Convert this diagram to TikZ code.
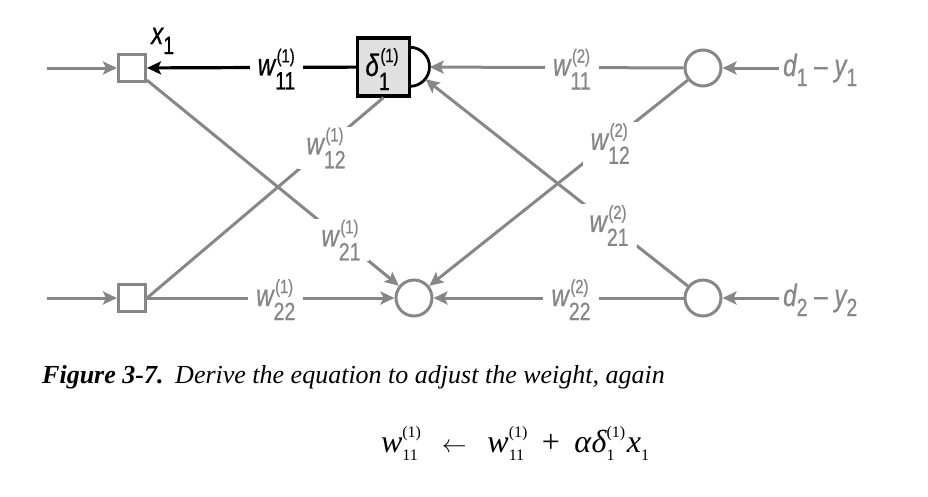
\documentclass[tikz,border=0pt]{standalone}
\usepackage{fontspec}
\setmainfont{Liberation Serif}
\newfontfamily\labf[FakeStretch=0.78,FakeBold=0.6]{Liberation Sans}
\usetikzlibrary{arrows.meta}
\definecolor{gr}{HTML}{878787}
\definecolor{bx}{HTML}{E0E0E0}
\newsavebox\lsup \newsavebox\lsub \newlength\lwd
% label: [raise]{main}{sup}{sub}
\newcommand{\lbl}[4][13pt]{%
  {\fontsize{31}{31}\selectfont\itshape #2}%
  \sbox\lsup{\kern1.5pt\fontsize{19}{19}\selectfont #3}%
  \sbox\lsub{\fontsize{25}{25}\selectfont #4}%
  \setlength\lwd{\wd\lsup}\ifdim\wd\lsub>\lwd \setlength\lwd{\wd\lsub}\fi
  \rlap{\raisebox{#1}{\usebox\lsup}}\makebox[\lwd][l]{\raisebox{-14pt}{\usebox\lsub}}}
\newcommand{\lbs}[2]{%
  {\fontsize{31}{31}\selectfont\itshape #1}%
  \raisebox{-10pt}{\fontsize{25}{25}\selectfont #2}}
\newcommand{\eql}[3]{%
  {\itshape #1}%
  \sbox\lsup{\fontsize{16}{16}\selectfont #2}%
  \sbox\lsub{\fontsize{16}{16}\selectfont #3}%
  \setlength\lwd{\wd\lsup}\ifdim\wd\lsub>\lwd \setlength\lwd{\wd\lsub}\fi
  \rlap{\raisebox{14.5pt}{\usebox\lsup}}\makebox[\lwd][l]{\raisebox{-8pt}{\usebox\lsub}}}
\tikzset{
  gl/.style={draw=gr, line width=3pt},
  bl/.style={draw=black, line width=3.2pt},
  ar/.style={-{Stealth[length=14pt,width=13pt,inset=3pt]}},
  sqst/.style={draw=gr, line width=3pt, minimum size=27pt, inner sep=0pt, fill=white},
  cirst/.style={circle, draw=gr, line width=3pt, minimum size=36pt, inner sep=0pt},
  lab/.style={font=\labf, text=gr, fill=white, inner xsep=8pt, inner ysep=1pt, anchor=base, yshift=-8pt},
}
\begin{document}
\begin{tikzpicture}[x=1pt,y=-1pt]
\useasboundingbox (0,0) rectangle (928,496);
% nodes
\node[sqst] (sqA) at (132,68) {};
\node[sqst] (sqB) at (132,298) {};
\node[draw=black, line width=3.2pt, fill=bx, minimum width=52pt, minimum height=58pt, inner sep=0pt] (box) at (383.5,67) {};
\node[circle, minimum size=39pt, inner sep=0pt] (semi) at (410,67) {};
\node[cirst] (cTR) at (703,68) {};
\node[cirst] (cBM) at (414,298) {};
\node[cirst] (cBR) at (703,298) {};
\node[font=\labf, anchor=base, inner sep=0pt] (dlt) at (382,76) {\lbl[14pt]{δ}{(1)}{1}};
\node[font=\labf, anchor=base west, inner sep=0pt] (x1) at (151,44) {\lbs{x}{1}};
\node[font=\labf, text=gr, anchor=base west, inner sep=4pt, yshift=-8pt] (d1) at (779,68) {\lbs{d}{1}\fontsize{31}{31}\selectfont{} – \lbs{y}{1}};
\node[font=\labf, text=gr, anchor=base west, inner sep=4pt, yshift=-8pt] (d2) at (779,298) {\lbs{d}{2}\fontsize{31}{31}\selectfont{} – \lbs{y}{2}};
\coordinate (inA) at (47,68);
\coordinate (inB) at (47,298);
% semicircle
\draw[line width=2.8pt] (semi.north) arc[start angle=90, end angle=-90, radius=19.5pt];
% connectors
\draw[gl,ar] (inA) -- (sqA);
\draw[gl,ar] (inB) -- (sqB);
\draw[gl,ar] (sqA) -- node[lab,pos=.77]{\lbl{w}{(1)}{21}} (cBM);
\draw[gl] (sqB.east) -- node[lab,pos=.757]{\lbl{w}{(1)}{12}} (box.south);
\draw[gl,ar] (sqB) -- node[lab,pos=.52]{\lbl{w}{(1)}{22}} (cBM);
\draw[gl,ar] (cTR) -- node[lab,pos=.44]{\lbl{w}{(2)}{11}} (semi);
\draw[gl,ar] (cTR) -- node[lab,pos=.3]{\lbl{w}{(2)}{12}} (cBM);
\draw[gl,ar] (cBR) -- node[lab,pos=.3]{\lbl{w}{(2)}{21}} (semi);
\draw[gl,ar] (cBR) -- node[lab,pos=.45]{\lbl{w}{(2)}{22}} (cBM);
\draw[gl,ar] (d1.west |- cTR) -- (cTR);
\draw[gl,ar] (d2.west |- cBR) -- (cBR);
\draw[bl,ar] (box) -- node[lab,text=black,pos=.38]{\lbl{w}{(1)}{11}} (sqA);
% caption and equation
\node[anchor=base west, inner sep=0pt, font=\fontsize{26}{26}\selectfont] (cap) at (42,383)
  {\textbf{\textit{Figure 3-7.}}\hspace{0.45em}\textit{Derive the equation to adjust the weight, again}};
\node[anchor=base, inner sep=0pt, font=\fontsize{32}{32}\selectfont] (eq) at (515,452)
  {\eql{w}{(1)}{11}\hspace{0.65em}{\fontsize{25}{25}\selectfont$\leftarrow$}\hspace{0.65em}\eql{w}{(1)}{11}\hspace{0.45em}+\hspace{0.45em}\textit{α}\eql{δ}{(1)}{1}\hspace{0.05em}\eql{x}{}{1}};
\end{tikzpicture}
\end{document}
